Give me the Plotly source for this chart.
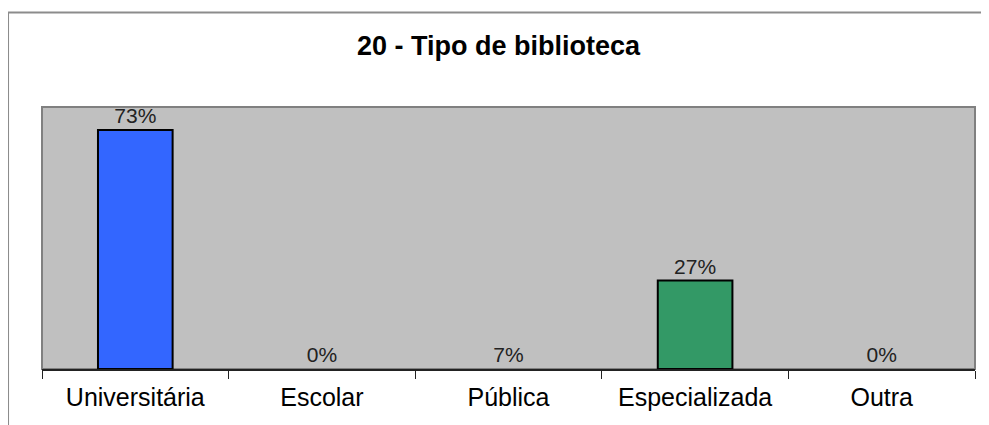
import plotly.graph_objects as go

# dados do gráfico
categorias = ["Universitária", "Escolar", "Pública", "Especializada", "Outra"]
valores = [73, 0, 0, 27, 0]
rotulos = ["73%", "0%", "7%", "27%", "0%"]
cores = ["#3366FF", "#3366FF", "#3366FF", "#339966", "#3366FF"]

# borda só nas barras com altura
larguras_borda = [2 if v > 0 else 0 for v in valores]

fig = go.Figure()

fig.add_trace(go.Bar(
    x=categorias,
    y=valores,
    text=rotulos,
    textposition="outside",
    cliponaxis=False,
    textfont=dict(family="Liberation Sans, Arial", size=21, color="#222222"),
    marker=dict(color=cores, line=dict(color="#000000", width=larguras_borda)),
    width=0.4,
))

# moldura externa do gráfico
fig.add_shape(type="line", xref="paper", yref="paper",
              x0=-0.0364, x1=1.05, y0=1.3607, y1=1.3607,
              line=dict(color="#8c8c8c", width=2))
fig.add_shape(type="line", xref="paper", yref="paper",
              x0=-0.0364, x1=-0.0364, y0=1.3607, y1=-0.3,
              line=dict(color="#8c8c8c", width=2))

# área de plotagem
fig.add_shape(type="rect", xref="paper", yref="paper", layer="below",
              x0=0, x1=1, y0=0, y1=1,
              line=dict(color="#808080", width=2), fillcolor="#C0C0C0")

# a página tem margem de 8px, então a figura fica 8px menor
fig.update_layout(
    width=981,
    height=417,
    margin=dict(l=34, r=14, t=99, b=56),
    paper_bgcolor="white",
    plot_bgcolor="#C0C0C0",
    showlegend=False,
    title=dict(
        text="<b>20 - Tipo de biblioteca</b>",
        x=0.5, xanchor="center",
        y=0.91, yanchor="middle",
        font=dict(family="Liberation Sans, Arial", size=27, color="#000000"),
    ),
    xaxis=dict(
        showline=True, linecolor="#222222", linewidth=2,
        ticks="outside", tickson="boundaries", ticklen=8, tickwidth=1,
        tickcolor="#222222", ticklabelstandoff=5,
        tickfont=dict(family="Liberation Sans, Arial", size=25, color="#000000"),
        showgrid=False,
    ),
    yaxis=dict(
        range=[0, 80],
        visible=False,
        showgrid=False,
        zeroline=False,
    ),
)

fig.write_html("out.html")
